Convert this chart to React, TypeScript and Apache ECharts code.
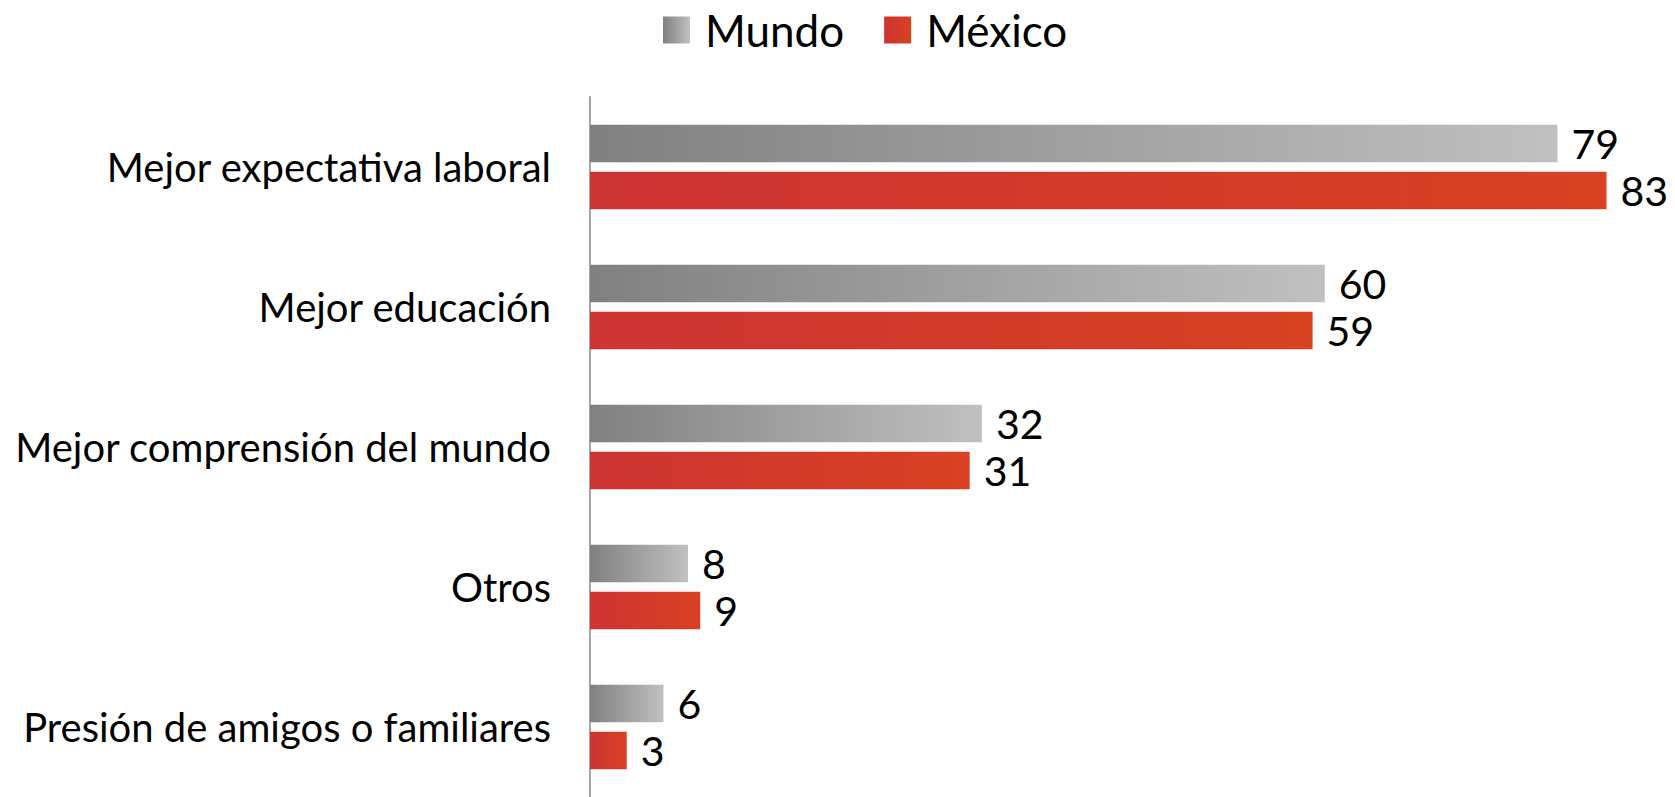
import React, { useEffect, useRef } from "react";
import * as echarts from "echarts";

const categories = [
  "Mejor expectativa laboral",
  "Mejor educación",
  "Mejor comprensión del mundo",
  "Otros",
  "Presión de amigos o familiares",
];
const mundoValues = [79, 60, 32, 8, 6];
const mexicoValues = [83, 59, 31, 9, 3];
const seriesNames = ["Mundo", "México"];

const FONT = "Lato";

export default function App() {
  const ref = useRef<HTMLDivElement>(null);
  useEffect(() => {
    if (!ref.current) return;
    const chart = echarts.init(ref.current, undefined, { renderer: "svg" });
    const grad = (a: string, b: string) =>
      new echarts.graphic.LinearGradient(0, 0, 1, 0, [
        { offset: 0, color: a },
        { offset: 1, color: b },
      ]);
    const labelStyle = {
      show: true,
      position: "right" as const,
      distance: 14,
      color: "#000",
      fontFamily: FONT,
      fontSize: 41,
    };
    chart.setOption({
      animation: false,
      backgroundColor: "#fff",
      legend: {
        top: 3,
        left: 658,
        icon: "rect",
        itemWidth: 27,
        itemHeight: 27,
        itemGap: 40,
        textStyle: {
          fontFamily: FONT,
          fontSize: 44,
          color: "#000",
          padding: [0, 0, 0, 10],
        },
        data: seriesNames,
      },
      grid: { left: 590, top: 97, width: 1041, height: 705, containLabel: false },
      xAxis: {
        type: "value",
        min: 0,
        max: 85,
        show: false,
        splitLine: { show: false },
      },
      yAxis: {
        type: "category",
        inverse: true,
        data: categories,
        axisLine: { show: true, lineStyle: { color: "#A6A6A6", width: 2 } },
        axisTick: { show: false },
        axisLabel: {
          color: "#000",
          fontFamily: FONT,
          fontSize: 40,
          margin: 39,
        },
      },
      series: [
        {
          name: seriesNames[0],
          type: "bar",
          data: mundoValues,
          barWidth: 37.5,
          barGap: "25%",
          itemStyle: { color: grad("#808080", "#C0C0C0") },
          label: labelStyle,
        },
        {
          name: seriesNames[1],
          type: "bar",
          data: mexicoValues,
          barWidth: 37.5,
          barGap: "25%",
          itemStyle: { color: grad("#CC3333", "#D84121") },
          label: labelStyle,
        },
      ],
    });
    return () => chart.dispose();
  }, []);
  return (
    <div
      ref={ref}
      style={{ position: "fixed", left: 0, top: 0, width: 1675, height: 797, background: "#fff" }}
    />
  );
}
